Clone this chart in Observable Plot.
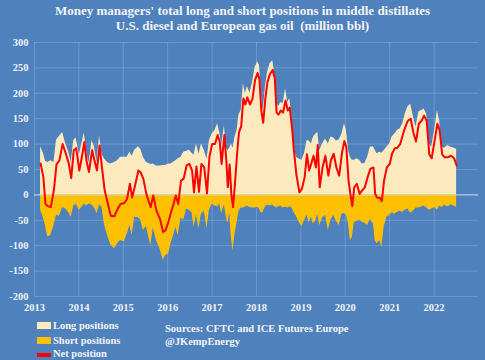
<!DOCTYPE html>
<html><head><meta charset="utf-8">
<script src="https://cdn.jsdelivr.net/npm/d3@7"></script>
<script src="https://cdn.jsdelivr.net/npm/@observablehq/plot@0.6"></script>
<style>
html,body{margin:0;padding:0;background:#4f81bd;}
#root{position:relative;width:485px;height:360px;background:#4f81bd;overflow:hidden;font-family:"Liberation Serif",serif;color:#f2f4f8;}
#title{position:absolute;left:0;top:3px;width:485px;text-align:center;font-weight:bold;font-size:13px;line-height:15px;}
#chart{position:absolute;left:0;top:0;}
.leg{position:absolute;font-weight:bold;font-size:10.5px;line-height:12px;white-space:nowrap;}
.sw{position:absolute;width:14px;height:7px;}
</style></head><body>
<div id="root">
<div id="chart"></div>
<div id="title">Money managers' total long and short positions in middle distillates<br>U.S. diesel and European gas oil&nbsp; (million bbl)</div>
<div class="sw" style="left:37px;top:322px;background:#fdebbf"></div>
<div class="leg" style="left:53px;top:320px">Long positions</div>
<div class="sw" style="left:37px;top:337px;background:#ffc000"></div>
<div class="leg" style="left:53px;top:335px">Short positions</div>
<div class="sw" style="left:37px;top:353px;height:4px;background:#ff0000"></div>
<div class="leg" style="left:53px;top:348px">Net position</div>
<div class="leg" style="left:165px;top:323px">Sources: CFTC and ICE Futures Europe</div>
<div class="leg" style="left:165px;top:336px">@JKempEnergy</div>
</div>
<script>
const dates = ["2013-02-20","2013-03-15","2013-04-01","2013-04-20","2013-05-15","2013-06-10","2013-07-01","2013-07-25","2013-08-20","2013-09-15","2013-10-10","2013-10-30","2013-11-20","2013-12-10",
"2014-01-05","2014-01-25","2014-02-15","2014-03-05","2014-03-25","2014-04-20","2014-05-10","2014-05-30","2014-06-20","2014-07-10","2014-08-01","2014-08-25","2014-09-20","2014-10-20","2014-11-15","2014-12-10",
"2015-01-10","2015-02-01","2015-02-25","2015-03-15","2015-04-05","2015-05-05","2015-05-25","2015-06-15","2015-07-10","2015-08-01","2015-08-15","2015-09-05","2015-10-01","2015-10-30","2015-11-25","2015-12-15",
"2016-01-10","2016-01-28","2016-02-15","2016-03-08","2016-03-28","2016-04-20","2016-05-12","2016-06-05","2016-06-28","2016-07-20","2016-08-05","2016-08-25","2016-09-15","2016-10-05","2016-10-28","2016-11-20","2016-12-10",
"2017-01-01","2017-01-25","2017-02-15","2017-03-05","2017-03-20","2017-04-12","2017-04-28","2017-05-10","2017-05-25","2017-06-08","2017-06-22","2017-07-08","2017-07-25","2017-08-10","2017-08-28","2017-09-15","2017-10-01","2017-10-18","2017-11-08","2017-11-28","2017-12-20",
"2018-01-10","2018-01-25","2018-02-10","2018-02-25","2018-03-15","2018-04-01","2018-04-22","2018-05-15","2018-06-01","2018-06-15","2018-07-01","2018-07-20","2018-08-08","2018-08-28","2018-09-15","2018-10-01","2018-10-20","2018-11-05","2018-11-25","2018-12-20",
"2019-01-10","2019-02-01","2019-02-20","2019-03-10","2019-03-28","2019-04-15","2019-05-05","2019-05-20","2019-06-05","2019-06-28","2019-07-22","2019-08-15","2019-09-05","2019-09-28","2019-10-20","2019-11-12","2019-12-05","2019-12-25",
"2020-01-10","2020-01-28","2020-02-12","2020-02-28","2020-03-15","2020-04-05","2020-04-28","2020-05-20","2020-06-10","2020-07-03","2020-07-25","2020-08-20","2020-09-03","2020-09-18","2020-10-12","2020-10-28","2020-11-15","2020-12-08",
"2021-01-01","2021-01-20","2021-02-12","2021-03-05","2021-03-28","2021-04-18","2021-05-08","2021-05-30","2021-06-22","2021-07-15","2021-08-05","2021-08-28","2021-09-20","2021-10-10","2021-11-01","2021-11-22","2021-12-12",
"2022-01-05","2022-01-28","2022-02-15","2022-03-08","2022-03-28","2022-04-22","2022-05-20","2022-06-15","2022-07-05"];
const longPos = [95,82,66,64,67,64,108,115,123,100,84,64,107,112,
78,100,122,88,62,107,94,64,116,80,70,64,61,64,67,74,
74,74,84,76,88,95,90,74,64,62,60,61,57,57,58,58,
61,61,64,67,71,74,84,86,88,82,78,100,80,100,88,70,107,
120,127,140,122,97,136,94,87,92,100,92,114,127,158,166,219,200,213,200,220,250,
262,255,200,165,212,240,258,264,236,185,173,182,180,209,182,190,153,98,74,70,
68,82,107,106,100,114,120,123,87,100,110,100,114,112,106,108,120,140,
128,87,74,68,68,71,68,61,62,74,94,95,88,81,84,82,87,94,
100,114,120,127,130,140,159,173,179,153,133,163,166,169,159,100,94,
127,166,146,94,92,97,94,92,90];
const shortPos = [-30,-45,-60,-83,-80,-60,-40,-42,-25,-28,-35,-44,-22,-18,
-30,-25,-18,-22,-18,-20,-26,-37,-20,-25,-60,-80,-98,-106,-96,-90,
-92,-78,-60,-80,-44,-45,-50,-70,-62,-85,-100,-65,-90,-106,-128,-120,
-116,-96,-83,-64,-80,-45,-50,-28,-30,-35,-64,-40,-66,-38,-32,-66,-30,
-18,-22,-24,-18,-37,-20,-44,-57,-35,-83,-110,-77,-55,-32,-26,-26,-24,-22,-25,-26,-26,
-24,-28,-36,-34,-24,-20,-22,-20,-24,-26,-24,-22,-26,-24,-26,-24,-26,-35,-42,-55,
-62,-50,-40,-55,-44,-58,-50,-38,-60,-46,-40,-70,-50,-40,-52,-60,-38,-36,
-40,-58,-90,-84,-55,-52,-50,-54,-56,-60,-48,-58,-90,-96,-90,-103,-64,-44,
-40,-35,-38,-34,-32,-34,-30,-28,-36,-32,-26,-26,-24,-22,-26,-30,-28,
-25,-30,-22,-25,-20,-24,-20,-22,-25];
const netPos = [62,35,-18,-22,-24,10,60,68,100,82,62,33,88,92,
48,74,104,67,45,88,67,48,97,54,9,-15,-41,-42,-28,-18,
-16,-8,22,-5,15,48,44,32,2,-15,-24,-1,-31,-47,-73,-70,
-51,-35,-21,-1,-18,28,32,58,61,48,5,56,6,61,54,3,75,
100,100,118,104,61,118,66,15,60,2,-24,22,80,123,135,190,178,192,178,188,226,
240,228,165,142,190,222,238,246,228,162,158,166,162,186,166,172,133,87,40,5,
12,35,80,48,62,77,54,98,15,54,77,38,68,81,54,38,82,106,
94,28,2,-22,15,22,2,9,15,35,51,54,2,-5,-6,-12,28,54,
61,81,92,93,100,118,133,146,150,122,105,140,146,156,146,80,72,
107,140,128,80,74,74,77,72,58];
const yTicks = [-200,-150,-100,-50,0,50,100,150,200,250,300];
const xTickYears = [2013,2014,2015,2016,2017,2018,2019,2020,2021,2022];

const data = dates.map((d,i)=>({date:new Date(d), long:longPos[i], short:shortPos[i], net:netPos[i]}));
const xTicks = xTickYears.map(y=>new Date(Date.UTC(y,0,1)));

const chart = Plot.plot({
  width:485, height:320,
  marginLeft:34, marginRight:7, marginTop:42, marginBottom:24,
  style:{background:"transparent", color:"#eef2f8", fontFamily:"'Liberation Serif', serif", fontSize:"10.5px", fontWeight:"bold", overflow:"visible"},
  x:{type:"utc", domain:[new Date(Date.UTC(2013,0,1)), new Date(Date.UTC(2023,0,1))], ticks:xTicks, tickFormat:d=>String(d.getUTCFullYear()), label:null, tickSize:0, tickPadding:7},
  y:{domain:[-200,300], ticks:yTicks, label:null, tickSize:0, tickPadding:6, tickFormat:d=>String(d)},
  marks:[
    Plot.gridY(yTicks, {stroke:"#ffffff", strokeOpacity:0.18, strokeWidth:1}),
    Plot.gridX(xTicks, {stroke:"#ffffff", strokeOpacity:0.18, strokeWidth:1}),
    Plot.areaY(data, {x:"date", y:"long", fill:"#fdebbf"}),
    Plot.areaY(data, {x:"date", y:"short", fill:"#ffc000"}),
    Plot.ruleY([0], {stroke:"#dde6f2", strokeWidth:1, strokeOpacity:0.8}),
    Plot.lineY(data, {x:"date", y:"net", stroke:"#ff0000", strokeWidth:2})
  ]
});
document.getElementById("chart").appendChild(chart);
</script>
</body></html>
